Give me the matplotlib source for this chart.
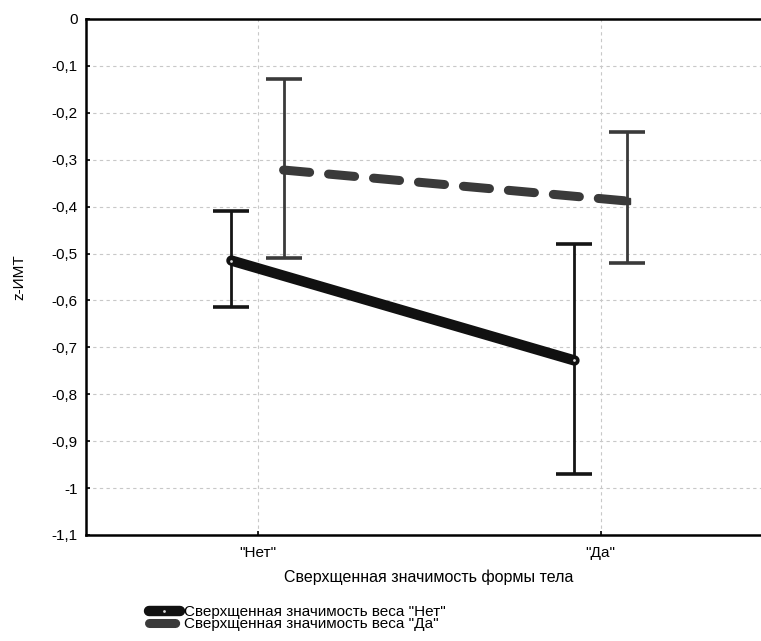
import matplotlib.pyplot as plt
import numpy as np

plt.rcParams['font.family'] = ['Liberation Sans', 'DejaVu Sans']

categories = ['"Нет"', '"Да"']
series_names = ['Сверхщенная значимость веса "Нет"', 'Сверхщенная значимость веса "Да"']

mean_no = [-0.515, -0.728]
low_no = [-0.615, -0.970]
high_no = [-0.410, -0.480]

mean_yes = [-0.322, -0.388]
low_yes = [-0.510, -0.520]
high_yes = [-0.128, -0.242]

yticks = [0, -0.1, -0.2, -0.3, -0.4, -0.5, -0.6, -0.7, -0.8, -0.9, -1.0, -1.1]

fig = plt.figure(figsize=(7.61, 6.41), dpi=100)
ax = fig.add_axes([0.113, 0.1654, 0.9015, 0.805])

x = np.arange(len(categories))
off = 0.076

# error bars
ax.errorbar(x - off, mean_no,
            yerr=[np.array(mean_no) - np.array(low_no), np.array(high_no) - np.array(mean_no)],
            fmt='none', ecolor='#151515', elinewidth=2.0, capsize=13, capthick=2.6, zorder=3)
ax.errorbar(x + off, mean_yes,
            yerr=[np.array(mean_yes) - np.array(low_yes), np.array(high_yes) - np.array(mean_yes)],
            fmt='none', ecolor='#3a3a3a', elinewidth=2.0, capsize=13, capthick=2.6, zorder=3)

# mean lines
ax.plot(x - off, mean_no, color='#111111', lw=7.5, solid_capstyle='round',
        marker='o', ms=3, mfc='#dddddd', mec='#111111', zorder=4, label=series_names[0])
ax.plot(x + off, mean_yes, color='#3a3a3a', lw=6.5, dashes=(2.9, 2.1), dash_capstyle='round',
        marker='s', ms=4, mfc='#3a3a3a', mec='#3a3a3a', zorder=4, label=series_names[1])

ax.set_xlim(-0.5, 1.5)
ax.set_ylim(-1.1, 0)
ax.set_xticks(x)
ax.set_xticklabels(categories, fontsize=11)
ax.set_yticks(yticks)
ax.set_yticklabels([('%g' % v).replace('.', ',') for v in yticks], fontsize=11)
ax.tick_params(axis='x', direction='in', length=3, width=1.2, pad=8)
ax.tick_params(axis='y', direction='in', length=3, width=1.2, pad=6)

ax.grid(True, color='#c8c8c8', linestyle=(0, (3, 3)), linewidth=0.8)
ax.set_axisbelow(True)
for s in ['left', 'bottom', 'top']:
    ax.spines[s].set_linewidth(1.8)
ax.spines['right'].set_visible(False)

ax.set_xlabel('Сверхщенная значимость формы тела', fontsize=11.5, labelpad=7)
ax.set_ylabel('z-ИМТ', fontsize=11, labelpad=18)

fig.legend(loc='upper left', bbox_to_anchor=(149 / 761, 1 - 605 / 641),
           frameon=False, fontsize=11, handlelength=2.0, labelspacing=-0.1,
           handletextpad=0.3, borderaxespad=0, borderpad=0)

fig.savefig('out.png', dpi=100)
